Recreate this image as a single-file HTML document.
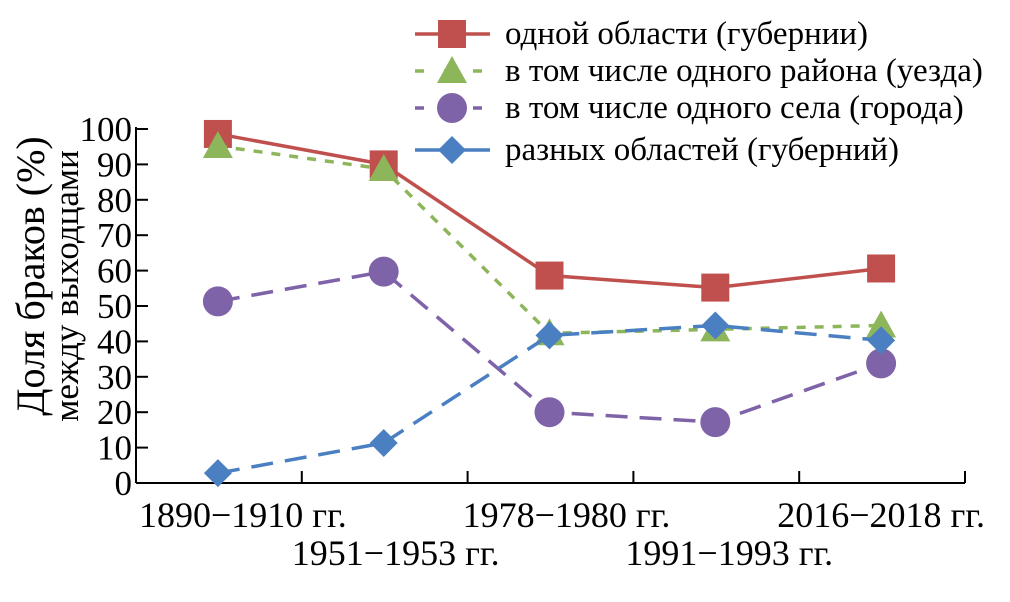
<!DOCTYPE html>
<html><head><meta charset="utf-8"><style>
html,body{margin:0;padding:0;background:#fff;}
svg{display:block;font-family:"Liberation Serif","DejaVu Serif",serif;}
</style></head><body>
<svg id="chart" width="1010" height="602" viewBox="0 0 1010 602" xmlns="http://www.w3.org/2000/svg">
<g id="axes"></g>
<g id="series"></g>
<g id="legend"></g>
<text transform="translate(44,276) rotate(-90)" text-anchor="middle" font-size="40">Доля браков (%)</text>
<text transform="translate(78,286) rotate(-90)" text-anchor="middle" font-size="35">между выходцами</text>
</svg>
<script>
const categories = ["1890−1910 гг.","1951−1953 гг.","1978−1980 гг.","1991−1993 гг.","2016−2018 гг."];
const oblast = [98.6, 90, 58.6, 55.2, 60.6];
const rayon = [95.2, 88.7, 42.3, 43.4, 44.5];
const selo = [51.3, 59.7, 20, 17.2, 33.8];
const raznye = [2.8, 11.3, 41.7, 44.5, 40.3];
const yTicks = [0,10,20,30,40,50,60,70,80,90,100];
const seriesNames = ["одной области (губернии)","в том числе одного района (уезда)","в том числе одного села (города)","разных областей (губерний)"];

const NS="http://www.w3.org/2000/svg";
const X0=136, X1=965, Y0=483, Y1=129;
const step=(X1-X0)/5;
function x(i){return X0+step*(i+0.5)-1;}
function y(v){return Y0-(v/100)*(Y0-Y1);}
function mk(tag,attrs,parent){const e=document.createElementNS(NS,tag);for(const k in attrs)e.setAttribute(k,attrs[k]);parent.appendChild(e);return e;}

const axes=document.getElementById('axes');
let a=mk('line',{x1:X0,y1:Y1-2,x2:X0,y2:Y0,stroke:'#000','stroke-width':2},axes);


a=mk('line',{x1:X0,y1:Y0,x2:X1,y2:Y0,stroke:'#000','stroke-width':2},axes);


yTicks.forEach(t=>{
  const l=mk('line',{x1:X0,y1:y(t),x2:X0+12,y2:y(t),stroke:'#000','stroke-width':2},axes);
  
  
  const tx=mk('text',{x:X0-4,y:y(t)+12,'text-anchor':'end','font-size':35},axes);
  tx.textContent=t;
  
  
});
for(let i=1;i<=5;i++){
  const xx=X0+step*i;
  const l=mk('line',{x1:xx,y1:Y0,x2:xx,y2:Y0-12,stroke:'#000','stroke-width':2},axes);
  
  
}
const labOff=[25,12,17,14,0];
categories.forEach((c,i)=>{
  const tx=mk('text',{x:x(i)+labOff[i],y:i%2?565:527,'text-anchor':'middle','font-size':36},axes);
  tx.textContent=c;
  
  
});

const cfg=[
 {vals:oblast,color:'#c0504d',dash:'',marker:'square'},
 {vals:rayon,color:'#8db55a',dash:'9,9',marker:'triangle'},
 {vals:selo,color:'#7f63a8',dash:'22,12',marker:'circle'},
 {vals:raznye,color:'#4a7fc1',dash:'22,12',marker:'diamond'}
];
function marker(type,cx,cy,color,parent){
  let e;
  if(type==='square') e=mk('rect',{x:cx-14,y:cy-14,width:28,height:28,fill:color},parent);
  else if(type==='triangle') e=mk('polygon',{points:`${cx},${cy-15} ${cx+15},${cy+12} ${cx-15},${cy+12}`,fill:color},parent);
  else if(type==='circle') e=mk('circle',{cx:cx,cy:cy,r:15,fill:color},parent);
  else e=mk('polygon',{points:`${cx},${cy-14} ${cx+14},${cy} ${cx},${cy+14} ${cx-14},${cy}`,fill:color},parent);
  return e;
}
const sg=document.getElementById('series');
cfg.forEach((s,si)=>{
  const g=mk('g',{},sg);
  
  
  const pts=s.vals.map((v,i)=>x(i)+','+y(v)).join(' ');
  const pl=mk('polyline',{points:pts,fill:'none',stroke:s.color,'stroke-width':3.5,'stroke-dasharray':s.dash},g);
  
  
  s.vals.forEach((v,i)=>{
    const m=marker(s.marker,x(i),y(v),s.color,g);
    
    
  });
});
const lg=document.getElementById('legend');
const rows=[34,71,108,150];
cfg.forEach((s,si)=>{
  const g=mk('g',{},lg);
  
  
  mk('line',{x1:415,y1:rows[si],x2:490,y2:rows[si],stroke:s.color,'stroke-width':3.5,'stroke-dasharray':si===0||si===3?'':'9,20'},g);
  marker(s.marker,452,rows[si],s.color,g);
  const t=mk('text',{x:505,y:rows[si]+10,'font-size':33},g);
  t.textContent=seriesNames[si];
});
</script>
</body></html>
